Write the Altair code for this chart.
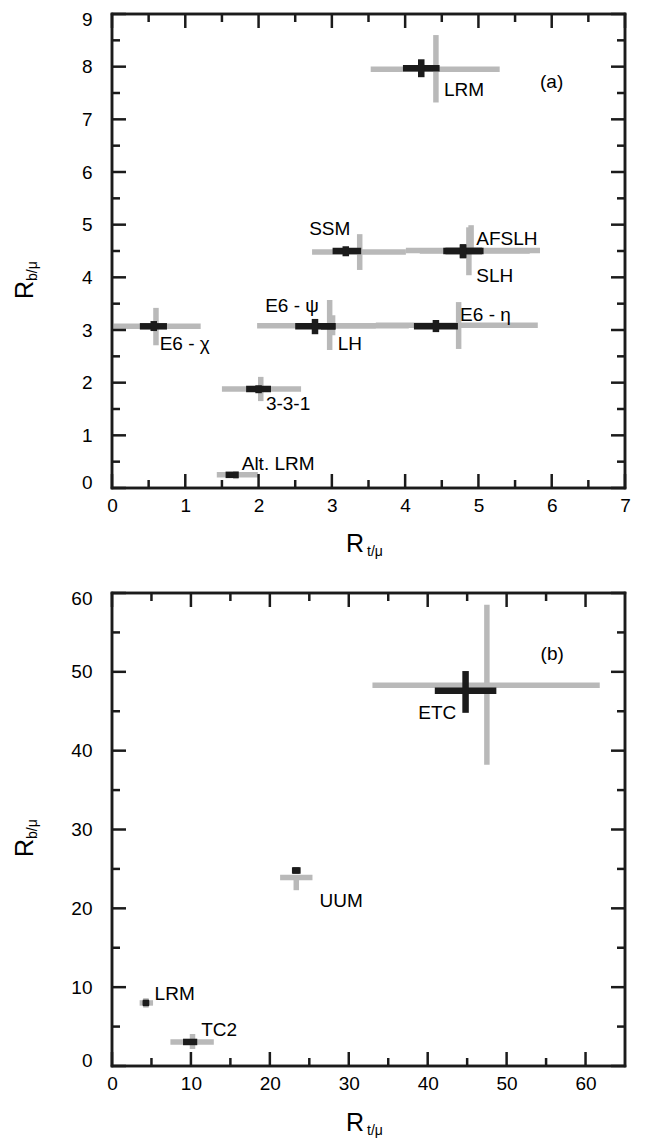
import altair as alt
import pandas as pd

FONT = "Liberation Sans"
GRAY = "#b9b9b9"
BLACK = "#1b1b1b"
LINE = "#1b1b1b"

# ---------------- Panel (a) ----------------
a_models = ["LRM", "SSM", "AFSLH", "SLH", "E6 - ψ", "LH", "E6 - η", "E6 - χ", "3-3-1", "Alt. LRM"]
# wide (gray) cross
a_gx   = [4.42, 3.38, 4.90, 4.87, 2.97, 3.01, 4.73, 0.60, 2.03, 1.69]
a_gy   = [7.95, 4.48, 4.51, 4.50, 3.08, 3.08, 3.09, 3.07, 1.88, 0.25]
a_gxlo = [3.53, 2.73, 4.01, 4.20, 1.98, 2.95, 3.60, 0.00, 1.50, 1.43]
a_gxhi = [5.29, 4.01, 5.84, 5.70, 3.60, 4.05, 5.81, 1.21, 2.58, 1.99]
a_gylo = [7.32, 4.14, 4.52, 4.04, 2.62, 2.90, 2.64, 2.71, 1.65, 0.17]
a_gyhi = [8.60, 4.82, 4.99, 4.95, 3.57, 3.28, 3.53, 3.42, 2.11, 0.32]
# narrow (black) cross
a_bx   = [4.22, 3.19, 4.79, 4.79, 2.77, 2.96, 4.42, 0.57, 2.00, 1.62]
a_by   = [7.97, 4.50, 4.50, 4.50, 3.07, 3.07, 3.07, 3.07, 1.88, 0.25]
a_bxlo = [3.97, 3.01, 4.52, 4.55, 2.50, 2.85, 4.12, 0.38, 1.83, 1.55]
a_bxhi = [4.47, 3.40, 5.07, 5.05, 3.05, 3.05, 4.72, 0.75, 2.17, 1.73]
a_bylo = [7.80, 4.40, 4.36, 4.37, 2.92, 3.07, 2.96, 2.98, 1.80, 0.22]
a_byhi = [8.14, 4.59, 4.63, 4.62, 3.21, 3.07, 3.19, 3.17, 1.95, 0.28]
# label anchors
a_lx = [4.53, 2.69, 4.97, 4.97, 2.09, 3.08, 4.75, 0.65, 2.10, 1.77]
a_ly = [7.44, 4.80, 4.61, 3.91, 3.34, 2.62, 3.17, 2.62, 1.48, 0.34]

a_xmajor = [0, 1, 2, 3, 4, 5, 6, 7]
a_xminor = [0.5, 1.5, 2.5, 3.5, 4.5, 5.5, 6.5]
a_ymajor = [0, 1, 2, 3, 4, 5, 6, 7, 8, 9]
a_yminor = [0.5, 1.5, 2.5, 3.5, 4.5, 5.5, 6.5, 7.5, 8.5]

# ---------------- Panel (b) ----------------
b_models = ["ETC", "UUM", "LRM", "TC2"]
b_gx   = [47.5, 23.35, 4.3, 10.2]
b_gy   = [48.3, 23.9, 8.0, 3.05]
b_gxlo = [33.0, 21.3, 3.5, 7.4]
b_gxhi = [61.8, 25.4, 5.2, 12.9]
b_gylo = [38.2, 22.3, 7.4, 2.16]
b_gyhi = [58.5, 23.9, 8.6, 4.06]
b_bx   = [44.8, 23.35, 4.3, 9.9]
b_by   = [47.6, 24.8, 8.0, 3.05]
b_bxlo = [40.9, 22.8, 3.9, 9.0]
b_bxhi = [48.7, 23.9, 4.7, 10.8]
b_bylo = [44.8, 24.4, 7.7, 3.05]
b_byhi = [50.1, 25.2, 8.3, 3.05]
b_lx = [38.8, 26.3, 5.4, 11.3]
b_ly = [44.0, 20.2, 8.4, 3.8]

b_xmajor = [0, 10, 20, 30, 40, 50, 60]
b_xminor = [5, 15, 25, 35, 45, 55]
b_ymajor = [0, 10, 20, 30, 40, 50, 60]
b_yminor = [5, 15, 25, 35, 45, 55]

W = 513
HA = 474
HB = 473
MAJ = 14
MIN = 8
LW = 2.5


def table(models, gx, gy, gxlo, gxhi, gylo, gyhi, bx, by, bxlo, bxhi, bylo, byhi, lx, ly):
    return pd.DataFrame(dict(model=models, gx=gx, gy=gy, gxlo=gxlo, gxhi=gxhi, gylo=gylo,
                             gyhi=gyhi, bx=bx, by=by, bxlo=bxlo, bxhi=bxhi, bylo=bylo,
                             byhi=byhi, lx=lx, ly=ly))


def panel(df, H, xdom, ydom, xmaj, xmin, ymaj, ymin, tag, tagx, tagy, ysub, ytitle_y, xt_base):
    xs = alt.Scale(domain=xdom, nice=False, zero=False)
    ys = alt.Scale(domain=ydom, nice=False, zero=False)
    xax = alt.Axis(values=xmaj, title=None, ticks=False, tickSize=0, domain=False, grid=False,
                   labelFont=FONT, labelFontSize=19, labelColor="black", labelPadding=8,
                   labelFlush=False, labelOverlap=False, format="d")
    yax = alt.Axis(values=ymaj, title=None, ticks=False, tickSize=0, domain=False, grid=False,
                   labelFont=FONT, labelFontSize=19, labelColor="black", labelPadding=20,
                   labelFlush=True, labelFlushOffset=4, labelOverlap=False, format="d")

    def X(f):
        return alt.X(f, type="quantitative", scale=xs, axis=xax)

    def Y(f):
        return alt.Y(f, type="quantitative", scale=ys, axis=yax)

    base = alt.Chart(df)
    gh = base.mark_rule(color=GRAY, strokeWidth=5.5, strokeCap="butt").encode(
        x=X("gxlo"), x2="gxhi", y=Y("gy"))
    gv = base.mark_rule(color=GRAY, strokeWidth=5.5, strokeCap="butt").encode(
        x=X("gx"), y=Y("gylo"), y2="gyhi")
    bh = base.mark_rule(color=BLACK, strokeWidth=6.5, strokeCap="butt").encode(
        x=X("bxlo"), x2="bxhi", y=Y("by"))
    bv = base.mark_rule(color=BLACK, strokeWidth=6.5, strokeCap="butt").encode(
        x=X("bx"), y=Y("bylo"), y2="byhi")
    lab = base.mark_text(align="left", baseline="alphabetic", font=FONT, fontSize=19,
                         color="black").encode(x=X("lx"), y=Y("ly"), text="model")
    tagc = alt.Chart(pd.DataFrame({"t": [tag], "x": [tagx], "y": [tagy]})).mark_text(
        align="left", baseline="middle", font=FONT, fontSize=19, color="black").encode(
        x=X("x"), y=Y("y"), text="t")

    layers = [gh, gv, bh, bv, lab, tagc]

    # inward ticks on all four sides (drawn as short rules from the frame)
    for vals, L in ((xmaj, MAJ), (xmin, MIN)):
        d = pd.DataFrame({"v": vals})
        layers.append(alt.Chart(d).mark_rule(color=LINE, strokeWidth=LW, strokeCap="butt").encode(
            x=X("v"), y=alt.value(H), y2=alt.value(H - L)))
        layers.append(alt.Chart(d).mark_rule(color=LINE, strokeWidth=LW, strokeCap="butt").encode(
            x=X("v"), y=alt.value(0), y2=alt.value(L)))
    for vals, L in ((ymaj, MAJ), (ymin, MIN)):
        d = pd.DataFrame({"v": vals})
        layers.append(alt.Chart(d).mark_rule(color=LINE, strokeWidth=LW, strokeCap="butt").encode(
            y=Y("v"), x=alt.value(0), x2=alt.value(L)))
        layers.append(alt.Chart(d).mark_rule(color=LINE, strokeWidth=LW, strokeCap="butt").encode(
            y=Y("v"), x=alt.value(W), x2=alt.value(W - L)))

    one = lambda s: alt.Chart(pd.DataFrame({"t": [s]}))

    # frame
    fr = dict(color=LINE, strokeWidth=LW, strokeCap="square")
    layers.append(one("f").mark_rule(**fr).encode(x=alt.value(0), x2=alt.value(W), y=alt.value(0)))
    layers.append(one("f").mark_rule(**fr).encode(x=alt.value(0), x2=alt.value(W), y=alt.value(H)))
    layers.append(one("f").mark_rule(**fr).encode(x=alt.value(0), y=alt.value(0), y2=alt.value(H)))
    layers.append(one("f").mark_rule(**fr).encode(x=alt.value(W), y=alt.value(0), y2=alt.value(H)))

    # axis titles (R with subscript)
    layers.append(one("R").mark_text(align="left", baseline="alphabetic", font=FONT, fontSize=25,
                                     color="black").encode(x=alt.value(234), y=alt.value(H + xt_base),
                                                           text="t"))
    layers.append(one("t/μ").mark_text(align="left", baseline="alphabetic", font=FONT, fontSize=14,
                                       color="black").encode(x=alt.value(255),
                                                             y=alt.value(H + xt_base + 4), text="t"))
    layers.append(one("R").mark_text(align="left", baseline="alphabetic", font=FONT, fontSize=25,
                                     angle=270, color="black").encode(
        x=alt.value(-79), y=alt.value(ytitle_y), text="t"))
    layers.append(one(ysub).mark_text(align="left", baseline="alphabetic", font=FONT, fontSize=14,
                                      angle=270, color="black").encode(
        x=alt.value(-75), y=alt.value(ytitle_y - 18), text="t"))

    return alt.layer(*layers).properties(width=W, height=H)


dfa = table(a_models, a_gx, a_gy, a_gxlo, a_gxhi, a_gylo, a_gyhi, a_bx, a_by, a_bxlo, a_bxhi,
            a_bylo, a_byhi, a_lx, a_ly)
dfb = table(b_models, b_gx, b_gy, b_gxlo, b_gxhi, b_gylo, b_gyhi, b_bx, b_by, b_bxlo, b_bxhi,
            b_bylo, b_byhi, b_lx, b_ly)

pa = panel(dfa, HA, [0, 7], [0, 9], a_xmajor, a_xminor, a_ymajor, a_yminor,
           "(a)", 5.84, 7.7, "b/μ", 285, 64)
pb = panel(dfb, HB, [0, 65], [0, 60], b_xmajor, b_xminor, b_ymajor, b_yminor,
           "(b)", 54.3, 52.3, "b/μ", 264, 65)

chart = alt.vconcat(pa, pb, spacing=105, bounds="flush").properties(
    padding={"left": 3, "top": 0, "right": 5, "bottom": 0}
).configure_view(stroke=LINE, strokeWidth=LW)

chart.save("out.html", embed_options={"renderer": "svg", "actions": False})
